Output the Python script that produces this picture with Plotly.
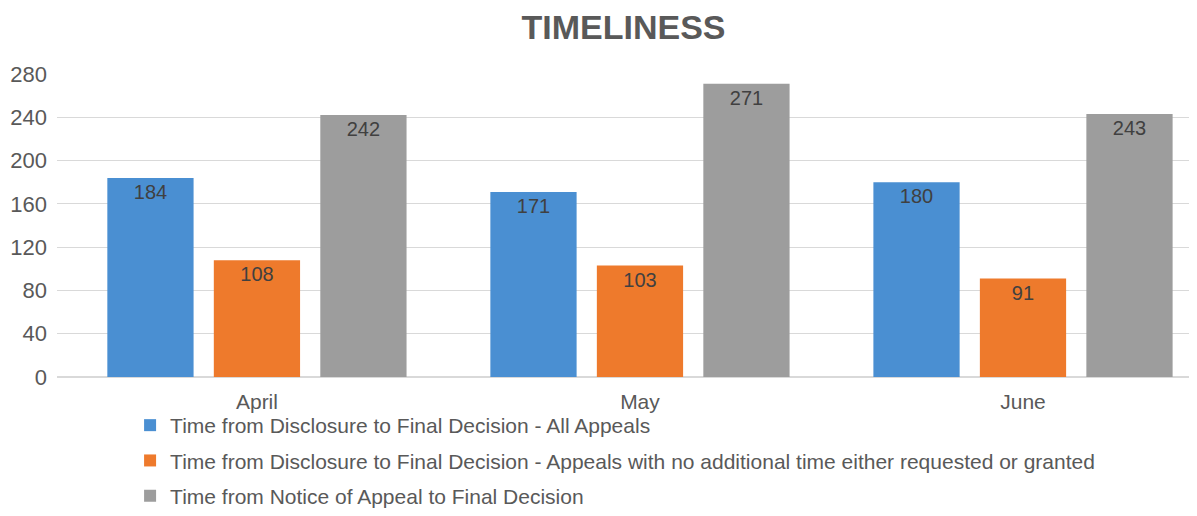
import plotly.graph_objects as go

months = ["April", "May", "June"]
series_names = [
    "Time from Disclosure to Final Decision - All Appeals",
    "Time from Disclosure to Final Decision - Appeals with no additional time either requested or granted",
    "Time from Notice of Appeal to Final Decision",
]
all_appeals = [184, 171, 180]
no_extra_time = [108, 103, 91]
notice_to_decision = [242, 271, 243]
y_ticks = [0, 40, 80, 120, 160, 200, 240, 280]

colors = ["#4a8fd2", "#ee7a2c", "#9d9d9d"]

fig = go.Figure()
for i, (name, vals) in enumerate(zip(series_names, [all_appeals, no_extra_time, notice_to_decision])):
    fig.add_trace(go.Bar(
        x=months, y=vals, name=name,
        marker=dict(color=colors[i], line=dict(width=0)),
        text=[str(v) for v in vals],
        textposition="inside", insidetextanchor="end",
        textfont=dict(family="Liberation Sans, Arial, sans-serif", size=20, color="#404040"),
        legendgroup=f"g{i}",
    ))

# page body has an 8px margin, so the figure is 8px smaller and offset
W, H, T, L = 1189, 508, 66, 49
plot_bottom_px = 369
paper_h = H - T
fig.update_layout(
    width=W, height=H,
    margin=dict(l=L, r=7, t=T, b=0),
    paper_bgcolor="white", plot_bgcolor="white",
    barmode="group", bargap=0.166, bargroupgap=0.19,
    font=dict(family="Liberation Sans, Arial, sans-serif", size=21, color="#595959"),
    title=dict(text="<b>TIMELINESS</b>", x=0.5, xref="paper", y=1 - 19.5 / H, yref="container",
               xanchor="center", yanchor="middle",
               font=dict(size=34, color="#595959")),
    legend=dict(orientation="v", x=0.0645, xanchor="left",
                y=0, yanchor="bottom",
                font=dict(size=21, color="#595959"), tracegroupgap=5,
                itemwidth=30, bgcolor="rgba(0,0,0,0)"),
    uniformtext=dict(mode="show", minsize=10),
)
fig.update_xaxes(range=[-0.522, 2.436], showgrid=False, showline=True, linecolor="#d9d9d9",
                 linewidth=1, ticks="", ticklabelstandoff=6, automargin=False,
                 tickfont=dict(size=21, color="#595959"))
fig.update_yaxes(range=[0, 280], tickvals=y_ticks, showgrid=True, gridcolor="#d9d9d9",
                 domain=[(H - plot_bottom_px) / paper_h, 1],
                 gridwidth=1, zeroline=True, zerolinecolor="#d9d9d9", ticks="",
                 ticklabelstandoff=9, automargin=False, tickfont=dict(size=22, color="#595959"))

fig.write_html("out.html")
